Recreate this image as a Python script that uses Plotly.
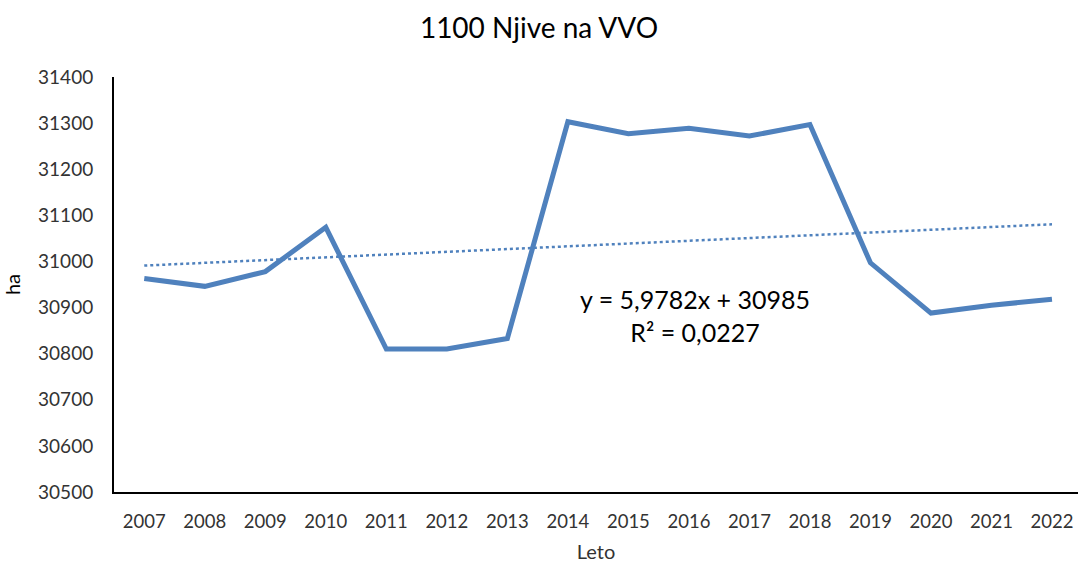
import plotly.graph_objects as go

years = ["2007", "2008", "2009", "2010", "2011", "2012", "2013", "2014",
         "2015", "2016", "2017", "2018", "2019", "2020", "2021", "2022"]
area_ha = [30963, 30946, 30978, 31074, 30810, 30810, 30833, 31303,
           31277, 31289, 31272, 31297, 30997, 30888, 30905, 30918]
trend_slope = 5.9782
trend_intercept = 30985
trend_label = "y = 5,9782x + 30985<br>R² = 0,0227"

trend_x = [years[0], years[-1]]
trend_y = [trend_slope * 1 + trend_intercept, trend_slope * len(years) + trend_intercept]

font_family = "Lato, 'Open Sans', sans-serif"
blue = "#4F81BD"

fig = go.Figure()
fig.add_trace(go.Scatter(x=years, y=area_ha, mode="lines",
                         line=dict(color=blue, width=5), showlegend=False))
fig.add_trace(go.Scatter(x=trend_x, y=trend_y, mode="lines",
                         line=dict(color=blue, width=2.5, dash="dot"), showlegend=False))

fig.add_annotation(x=0.603, y=30883, xref="paper", yref="y", text=trend_label,
                   showarrow=False, font=dict(family=font_family, size=25, color="#000000"),
                   align="center")

fig.update_layout(
    width=1078, height=565,
    margin=dict(l=114, r=0, t=77, b=73, autoexpand=False),
    paper_bgcolor="white", plot_bgcolor="white",
    title=dict(text="1100 Njive na VVO", x=0.5, xanchor="center", y=0.95, yanchor="middle",
               font=dict(family=font_family, size=28, color="#000000")),
    font=dict(family=font_family, color="#333333"),
)
fig.update_xaxes(type="category", range=[-0.5, 15.43], showline=True, linecolor="black",
                 linewidth=2, showgrid=False, ticks="", automargin=False,
                 ticklabelstandoff=12,
                 tickfont=dict(size=18.5, color="#333333"),
                 title=dict(text="Leto", font=dict(size=20, color="#333333"), standoff=14))
fig.update_yaxes(range=[30500, 31400], dtick=100, tickformat="d", showline=True,
                 linecolor="black", linewidth=2, showgrid=False, ticks="", zeroline=False,
                 automargin=False, ticklabelstandoff=15,
                 tickfont=dict(size=19, color="#333333"),
                 title=dict(text="ha", font=dict(size=20, color="#000000"), standoff=14))

fig.write_html("out.html", config={"displayModeBar": False},
               post_script="document.body.style.margin='0';document.body.style.overflow='hidden';")
